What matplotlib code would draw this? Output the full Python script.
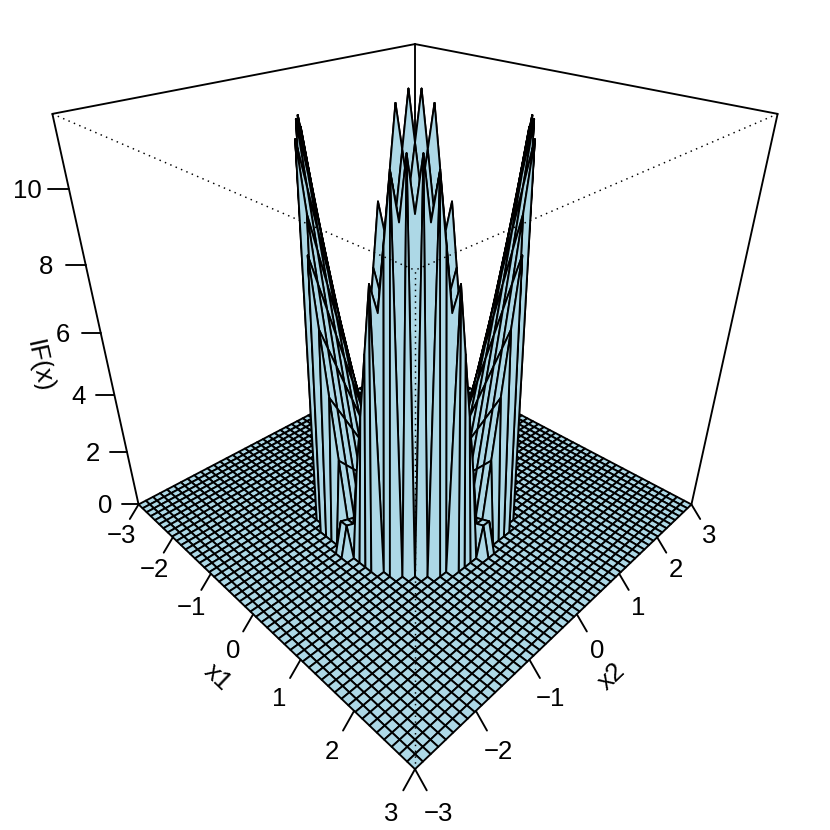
import numpy as np
import matplotlib
matplotlib.use("Agg")
import matplotlib.pyplot as plt
from matplotlib.collections import PolyCollection

plt.rcParams['font.family'] = ['Liberation Sans', 'DejaVu Sans']

# one quadrant of the surface (both axes from the centre out)
# every point that is not listed is 0
q_rows = [
    [0.05, 0.14, 0.23, 0.32, 0.42, 0.51, 0.60, 0.69, 0.78, 0.88, 0.97, 1.06],
    [0.14, 0.42, 0.69, 0.97, 1.25, 1.52, 1.80, 2.08, 2.35, 2.63, 2.91],
    [0.23, 0.69, 1.15, 1.61, 2.08, 2.54, 3.00, 3.46, 3.92, 4.38, 4.84],
    [0.32, 0.97, 1.61, 2.26, 2.91, 3.55, 4.20, 4.84, 5.49, 6.13, 6.78],
    [0.42, 1.25, 2.08, 2.91, 3.74, 4.57, 5.40, 6.23, 7.06, 7.89, 8.72],
    [0.51, 1.52, 2.54, 3.55, 4.57, 5.58, 6.59, 7.61, 8.62, 9.64],
    [0.60, 1.80, 3.00, 4.20, 5.40, 6.59, 7.79, 8.99, 10.19, 11.39],
    [0.69, 2.08, 3.46, 4.84, 6.23, 7.61, 8.99, 10.38, 11.76],
    [0.78, 2.35, 3.92, 5.49, 7.06, 8.62, 10.19, 11.76],
    [0.88, 2.63, 4.38, 6.13, 7.89, 9.64, 11.39],
    [0.97, 2.91, 4.84, 6.78, 8.72],
    [1.06],
]
x_ticks = [-3, -2, -1, 0, 1, 2, 3]
z_ticks = [0, 2, 4, 6, 8, 10]
z_top = 11.83
n_half = 25

# camera of the persp() view
half_h = 0.998
cam_r = 3.70
cam_f = 820.8
cx = 415.0
cy = 335.5
s45 = np.sqrt(2.0)
cphi = np.cos(np.radians(30))
sphi = np.sin(np.radians(30))


def proj(x1, x2, z):
    u = np.asarray(x1, dtype=float) / 3.0
    v = np.asarray(x2, dtype=float) / 3.0
    zz = -half_h + np.asarray(z, dtype=float) * 2 * half_h / z_top
    hor = (u + v) / s45
    dep = (v - u) / s45
    up = zz * cphi + dep * sphi
    w = dep * cphi - zz * sphi
    return cx + cam_f * hor / (cam_r + w), cy - cam_f * up / (cam_r + w)


def seg(ax, p, q, **kw):
    a = proj(*p)
    b = proj(*q)
    ax.plot([a[0], b[0]], [a[1], b[1]], color='black', solid_capstyle='round', **kw)


def label(ax, p, txt, rot=0):
    px, py = proj(*p)
    ax.text(px, py + 2.0, txt, fontsize=fs, ha='center', va='center', rotation=rot)


quad = np.zeros((n_half, n_half))
for i, row in enumerate(q_rows):
    quad[i, :len(row)] = row
Z = np.block([[quad[::-1, ::-1], quad[::-1, :]], [quad[:, ::-1], quad]])
grid = np.linspace(-3, 3, 2 * n_half)

fig = plt.figure(figsize=(8.3, 8.3), dpi=100)
ax = fig.add_axes([0, 0, 1, 1])
ax.set_xlim(0, 830)
ax.set_ylim(830, 0)
ax.axis('off')

lw = 1.35
fs = 18.5
tick = 0.18        # data units in x, and 0.03 of the z range
ztick = 0.03 * z_top

# back of the box
seg(ax, (-3, -3, z_top), (-3, 3, z_top), lw=lw)
seg(ax, (-3, 3, z_top), (3, 3, z_top), lw=lw)
seg(ax, (-3, -3, 0), (-3, -3, z_top), lw=lw)
seg(ax, (3, 3, 0), (3, 3, z_top), lw=lw)
seg(ax, (-3, 3, 0), (-3, 3, z_top), lw=lw)

# facets, far corner first
polys = []
for i in range(len(grid) - 1):
    for j in range(len(grid) - 2, -1, -1):
        a = [grid[i], grid[i + 1], grid[i + 1], grid[i]]
        b = [grid[j], grid[j], grid[j + 1], grid[j + 1]]
        c = [Z[i, j], Z[i + 1, j], Z[i + 1, j + 1], Z[i, j + 1]]
        px, py = proj(a, b, c)
        polys.append(np.column_stack([px, py]))
ax.add_collection(PolyCollection(polys, facecolors='#ADD8E6', edgecolors='black',
                                 linewidths=lw, joinstyle='round', zorder=2))

# front of the box is dotted
dots = dict(lw=1.05, linestyle=(0, (1, 3.0)), zorder=3)
seg(ax, (-3, -3, z_top), (3, -3, z_top), **dots)
seg(ax, (3, 3, z_top), (3, -3, z_top), **dots)
seg(ax, (3, -3, 0), (3, -3, z_top), **dots)

# ticks and labels
lab = 2.0
for t in x_ticks:
    txt = str(t).replace('-', '\u2212')
    seg(ax, (t, -3, 0), (t, -3 - tick, -ztick), lw=lw, zorder=3)
    label(ax, (t, -3 - lab * tick, -lab * ztick), txt)
    seg(ax, (3, t, 0), (3 + tick, t, -ztick), lw=lw, zorder=3)
    label(ax, (3 + lab * tick, t, -lab * ztick), txt)
for t in z_ticks:
    seg(ax, (-3, -3, t), (-3 - tick, -3 - tick, t), lw=lw, zorder=3)
    label(ax, (-3 - lab * tick, -3 - lab * tick, t), str(t))

off = 3.5
label(ax, (0, -3 - off * tick, -off * ztick), 'x1', -43.6)
label(ax, (3 + off * tick, 0, -off * ztick), 'x2', 43.6)
label(ax, (-3 - 3.7 * tick, -3 - 3.7 * tick, 5), 'IF(x)', -77.7)

fig.savefig('out.png', dpi=100)
